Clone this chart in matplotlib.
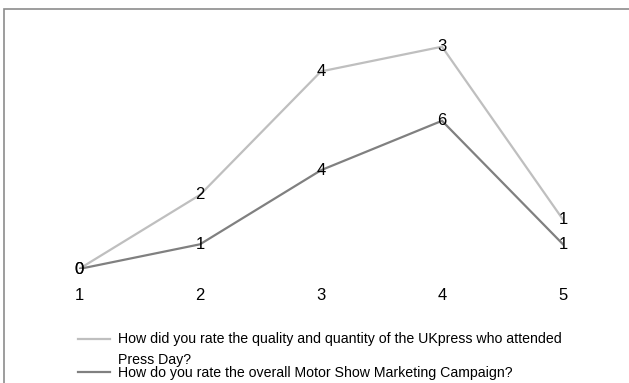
import matplotlib.pyplot as plt
from matplotlib.lines import Line2D
from matplotlib.patches import Rectangle

plt.rcParams['font.family'] = ['Liberation Sans', 'DejaVu Sans']

ratings = [1, 2, 3, 4, 5]
campaign = [0, 1, 4, 6, 1]   # overall Motor Show Marketing Campaign
press = [0, 2, 4, 3, 1]      # quality and quantity of UK press
press_label = "How did you rate the quality and quantity of the UKpress who attended\nPress Day?"
campaign_label = "How do you rate the overall Motor Show Marketing Campaign?"

light = '#bfbfbf'
dark = '#808080'

# stacked line: press series sits on top of campaign series
press_stacked = [c + p for c, p in zip(campaign, press)]

fig = plt.figure(figsize=(6.29, 3.83), dpi=100)
ax = fig.add_axes([79 / 629, (383 - 269) / 383, (563 - 79) / 629, 247 / 383])

ax.plot(ratings, press_stacked, color=light, lw=1.6, solid_joinstyle='miter')
ax.plot(ratings, campaign, color=dark, lw=1.6, solid_joinstyle='miter')

for x, y, v in zip(ratings, press_stacked, press):
    ax.text(x, y, str(v), ha='center', va='center', fontsize=12, color='black')
for x, y, v in zip(ratings, campaign, campaign):
    ax.text(x, y, str(v), ha='center', va='center', fontsize=12, color='black')

ax.set_xlim(1, 5)
ax.set_ylim(0, 10)
ax.set_xticks(ratings)
ax.set_xticklabels([str(r) for r in ratings], fontsize=12)
ax.tick_params(axis='x', length=0, pad=14)
ax.set_yticks([])
for s in ax.spines.values():
    s.set_visible(False)
ax.patch.set_visible(False)

# chart frame (runs off the right and bottom edges)
fig.patches.append(Rectangle((4 / 629, -0.1), 1.2, (383 - 9) / 383 + 0.1,
                             transform=fig.transFigure, fill=False,
                             edgecolor='#8c8c8c', lw=1.2))

# legend entries
def fy(py):
    return (383 - py) / 383

fig.add_artist(Line2D([78 / 629, 110 / 629], [fy(339), fy(339)], color=light, lw=1.6))
fig.add_artist(Line2D([78 / 629, 110 / 629], [fy(372), fy(372)], color=dark, lw=1.6))
fig.text(118 / 629, fy(339), press_label.split('\n')[0], fontsize=10.2, va='center', ha='left')
fig.text(118 / 629, fy(360), press_label.split('\n')[1], fontsize=10.2, va='center', ha='left')
fig.text(118 / 629, fy(373), campaign_label, fontsize=10.2, va='center', ha='left')

fig.savefig('out.png', dpi=100)
